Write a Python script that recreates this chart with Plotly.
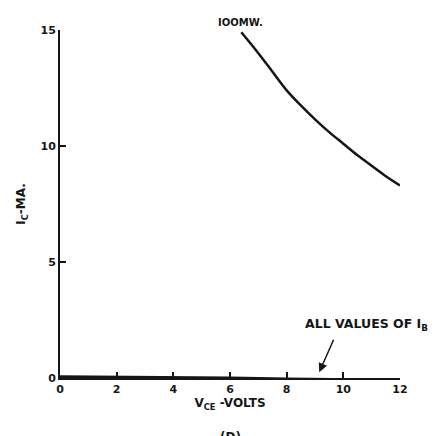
import plotly.graph_objects as go

# Data
vce_100mw = [6.4, 7.0, 7.5, 8.0, 8.5, 9.0, 9.5, 10.0, 10.5, 11.0, 11.5, 12.0]
ic_100mw = [14.9, 14.0, 13.2, 12.4, 11.75, 11.15, 10.6, 10.1, 9.6, 9.15, 8.7, 8.3]

vce_ib = [0, 2, 4, 6, 8, 10, 12]
ic_ib = [0.05, 0.04, 0.02, 0.0, -0.04, -0.07, -0.1]

x_ticks = [0, 2, 4, 6, 8, 10, 12]
y_ticks = [0, 5, 10, 15]

font_family = "DejaVu Sans, sans-serif"
ink = "#161616"

fig = go.Figure()
fig.add_trace(go.Scatter(x=vce_100mw, y=ic_100mw, mode="lines",
                         line=dict(color=ink, width=2.5, shape="spline", smoothing=1.0),
                         showlegend=False, hoverinfo="skip"))
fig.add_trace(go.Scatter(x=vce_ib, y=ic_ib, mode="lines",
                         line=dict(color=ink, width=3),
                         showlegend=False, hoverinfo="skip", cliponaxis=False))

fig.add_annotation(x=5.5, y=15.0, text="IOOMW.", showarrow=False,
                   xanchor="left", yanchor="bottom", yshift=0,
                   font=dict(family=font_family, size=10, color=ink, weight="bold"))
fig.add_annotation(x=9.15, y=0.25, ax=15, ay=-34,
                   text="", showarrow=True, arrowhead=2, arrowsize=1.2,
                   arrowwidth=1.5, arrowcolor=ink)
fig.add_annotation(x=10.8, y=2.3, text="ALL VALUES OF I<sub>B</sub>",
                   showarrow=False, xanchor="center", yanchor="middle",
                   font=dict(family=font_family, size=12.5, color=ink, weight="bold"))
fig.add_annotation(xref="paper", yref="paper", x=0.5, y=-0.145,
                   text="(D)", showarrow=False, yanchor="top",
                   font=dict(family=font_family, size=12, color=ink, weight="bold"))

fig.update_xaxes(range=[0, 12], tickvals=x_ticks, ticks="inside", ticklen=6,
                 tickwidth=1.5, tickcolor=ink, showline=True, linecolor=ink,
                 linewidth=2, showgrid=False, zeroline=False,
                 tickfont=dict(family=font_family, size=11, color=ink, weight="bold"),
                 title=dict(text="V<sub>CE</sub> -VOLTS", standoff=2,
                            font=dict(family=font_family, size=12, color=ink, weight="bold")))
fig.update_yaxes(range=[0, 15], tickvals=y_ticks, ticks="inside", ticklen=6,
                 tickwidth=1.5, tickcolor=ink, showline=True, linecolor=ink,
                 linewidth=2, showgrid=False, zeroline=False,
                 tickfont=dict(family=font_family, size=11, color=ink, weight="bold"),
                 title=dict(text="I<sub>C</sub>-MA.", standoff=12,
                            font=dict(family=font_family, size=12, color=ink, weight="bold")))

fig.update_layout(width=439, height=428, margin=dict(l=46, r=47, t=22, b=58),
                  plot_bgcolor="white", paper_bgcolor="white")

fig.write_html("out.html")
